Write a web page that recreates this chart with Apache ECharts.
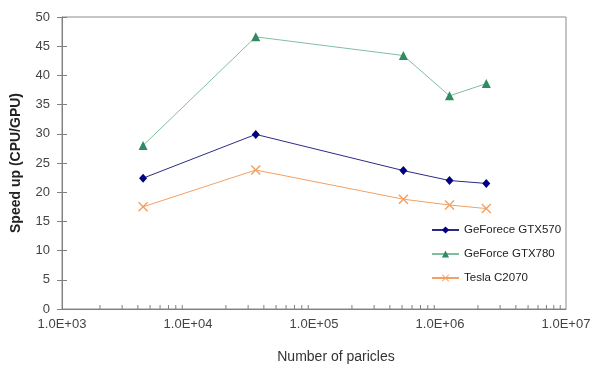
<!DOCTYPE html>
<html>
<head>
<meta charset="utf-8">
<script src="https://cdn.jsdelivr.net/npm/echarts@6/dist/echarts.min.js"></script>
<style>
  html, body { margin: 0; padding: 0; background: #fff; }
  #chart { width: 593px; height: 365px; }
</style>
</head>
<body>
<div id="chart"></div>
<script>
// 粒子数 (x) と速度向上比 (y)
var particles = [4400, 34500, 512000, 1190000, 2330000];
var gtx570 = [22.4, 29.9, 23.7, 22.0, 21.5];
var gtx780 = [28.0, 46.6, 43.4, 36.5, 38.6];
var teslaC2070 = [17.5, 23.8, 18.8, 17.8, 17.2];
var seriesNames = ['GeForece GTX570', 'GeForce GTX780', 'Tesla C2070'];
// 対数軸の補助目盛 (2..9 x 10^n)
var minorTickValues = [];
[1e3, 1e4, 1e5, 1e6].forEach(function (d) {
    for (var k = 2; k <= 9; k++) minorTickValues.push(k * d);
});

function pairs(ys) {
    return particles.map(function (x, i) { return [x, ys[i]]; });
}

var xMark = 'path://M0,1L1,0L5,4L9,0L10,1L6,5L10,9L9,10L5,6L1,10L0,9L4,5Z';
var labelFont = 'Liberation Sans, Arial, sans-serif';

var chart = echarts.init(document.getElementById('chart'));
var option = {
    animation: false,
    grid: {
        left: 62, right: 27, top: 17, bottom: 56,
        outerBoundsMode: 'none',
        containLabel: false,
        show: true,
        borderColor: '#8c8c8c',
        borderWidth: 1
    },
    legend: {
        orient: 'vertical',
        left: 426,
        top: 219,
        itemWidth: 27,
        itemHeight: 9,
        itemGap: 12,
        textStyle: { color: '#222', fontSize: 11.5, fontFamily: labelFont },
        data: seriesNames
    },
    xAxis: {
        type: 'log',
        logBase: 10,
        min: 1000,
        max: 10000000,
        name: 'Number of paricles',
        nameLocation: 'middle',
        nameGap: 41,
        nameTextStyle: { color: '#333', fontSize: 14, fontFamily: labelFont, padding: [0, 0, 0, 44] },
        axisLine: { lineStyle: { color: '#808080', width: 1 } },
        axisTick: { show: false },
        splitLine: { show: false },
        axisLabel: {
            color: '#444',
            fontSize: 13,
            fontFamily: labelFont,
            margin: 9,
            formatter: function (v) {
                return v.toExponential(1).toUpperCase().replace(/E\+(\d)$/, 'E+0$1');
            }
        }
    },
    yAxis: [{
        type: 'value',
        position: 'left',
        min: 0,
        max: 50,
        interval: 5,
        name: 'Speed up (CPU/GPU)',
        nameLocation: 'middle',
        nameGap: 39,
        nameTextStyle: { color: '#222', fontSize: 14, fontWeight: 'bold', fontFamily: labelFont },
        axisLine: { show: true, lineStyle: { color: '#808080', width: 1 } },
        axisTick: { show: true, length: 5, lineStyle: { color: '#808080' } },
        splitLine: { show: false },
        axisLabel: { color: '#444', fontSize: 13, fontFamily: labelFont, margin: 12 }
    }, {
        type: 'value',
        position: 'left',
        offset: 0,
        min: 0,
        max: 50,
        interval: 5,
        axisLine: { show: false },
        axisTick: { show: true, inside: true, length: 5, lineStyle: { color: '#808080' } },
        splitLine: { show: false },
        axisLabel: { show: false }
    }],
    series: [
        {
            name: seriesNames[0],
            type: 'line',
            data: pairs(gtx570),
            symbol: 'diamond',
            symbolSize: [8, 9],
            lineStyle: { color: '#2b2b86', width: 1 },
            itemStyle: { color: '#000080' }
        },
        {
            name: seriesNames[1],
            type: 'line',
            data: pairs(gtx780),
            symbol: 'triangle',
            symbolSize: 9,
            lineStyle: { color: '#7fbf9f', width: 1 },
            itemStyle: { color: '#2e8b62' }
        },
        {
            name: seriesNames[2],
            type: 'line',
            data: pairs(teslaC2070),
            symbol: xMark,
            symbolSize: 10,
            lineStyle: { color: '#f2a064', width: 1 },
            itemStyle: { color: '#f2a064' }
        },
        {
            type: 'custom',
            silent: true,
            clip: false,
            data: minorTickValues.map(function (v) { return [v, 0]; }),
            renderItem: function (params, api) {
                var p = api.coord([api.value(0), 0]);
                return {
                    type: 'line',
                    shape: { x1: p[0], y1: p[1], x2: p[0], y2: p[1] - 4 },
                    style: { stroke: '#808080', lineWidth: 1 }
                };
            }
        }
    ]
};
chart.setOption(option);
</script>
</body>
</html>
